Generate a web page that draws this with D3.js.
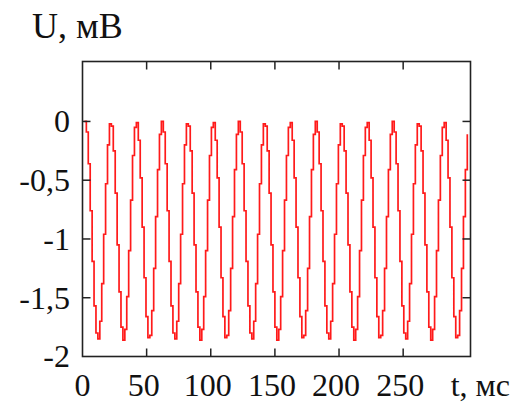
<!DOCTYPE html>
<html lang="ru">
<head>
<meta charset="UTF-8">
<title>U(t)</title>
<script src="https://d3js.org/d3.v7.min.js"></script>
<style>
    body { margin: 0; background: #fff; }
    svg { display: block; }
    text { font-family: "Liberation Serif", "DejaVu Serif", serif; fill: #111; }
</style>
</head>
<body>
<svg width="515" height="402"></svg>
<script>
// sampled signal, mV (step 1.5 ms, first sample at 1.5 ms)
const t0 = 1.5, dt = 1.5;
const uValues = [
    0.00, -0.09, -0.36, -0.76, -1.19, -1.57, -1.80, -1.85, -1.70, -1.38, -0.96, -0.53, -0.20, -0.02, -0.04, -0.25, -0.61, -1.05, -1.45, -1.75,
    -1.86, -1.77, -1.49, -1.10, -0.67, -0.29, -0.05, -0.01, -0.16, -0.48, -0.90, -1.33, -1.66, -1.84, -1.82, -1.61, -1.25, -0.81, -0.41, -0.11,
    0.00, -0.09, -0.36, -0.76, -1.19, -1.57, -1.80, -1.85, -1.70, -1.38, -0.96, -0.53, -0.20, -0.02, -0.04, -0.25, -0.61, -1.05, -1.45, -1.75,
    -1.86, -1.77, -1.49, -1.10, -0.67, -0.29, -0.05, -0.01, -0.16, -0.48, -0.90, -1.33, -1.66, -1.84, -1.82, -1.61, -1.25, -0.81, -0.41, -0.11,
    0.00, -0.09, -0.36, -0.76, -1.19, -1.57, -1.80, -1.85, -1.70, -1.38, -0.96, -0.53, -0.20, -0.02, -0.04, -0.25, -0.61, -1.05, -1.45, -1.75,
    -1.86, -1.77, -1.49, -1.10, -0.67, -0.29, -0.05, -0.01, -0.16, -0.48, -0.90, -1.33, -1.66, -1.84, -1.82, -1.61, -1.25, -0.81, -0.41, -0.11,
    0.00, -0.09, -0.36, -0.76, -1.19, -1.57, -1.80, -1.85, -1.70, -1.38, -0.96, -0.53, -0.20, -0.02, -0.04, -0.25, -0.61, -1.05, -1.45, -1.75,
    -1.86, -1.77, -1.49, -1.10, -0.67, -0.29, -0.05, -0.01, -0.16, -0.48, -0.90, -1.33, -1.66, -1.84, -1.82, -1.61, -1.25, -0.81, -0.41, -0.11,
    0.00, -0.09, -0.36, -0.76, -1.19, -1.57, -1.80, -1.85, -1.70, -1.38, -0.96, -0.53, -0.20, -0.02, -0.04, -0.25, -0.61, -1.05, -1.45, -1.75,
    -1.86, -1.77, -1.49, -1.10, -0.67, -0.29, -0.05, -0.01, -0.16, -0.48, -0.90, -1.33, -1.66, -1.84, -1.82, -1.61, -1.25, -0.81, -0.41, -0.11
];
const xTicks = [0, 50, 100, 150, 200, 250];
const yTicks = [0, -0.5, -1, -1.5, -2];
const xLabel = "t, мс";
const yLabel = "U, мВ";

const svg = d3.select("svg");
const mLeft = 82.5, mRight = 470.5, mTop = 61.5, mBottom = 356.5;

const x = d3.scaleLinear().domain([0, 302.5]).range([mLeft, mRight]);
const y = d3.scaleLinear().domain([-2, 0.51]).range([mBottom, mTop]);

const fmt = d => String(d).replace(".", ",");
const tickLen = 8;

// signal
const line = d3.line()
    .x((d, i) => x(t0 + i * dt))
    .y(d => y(d))
    .curve(d3.curveStepAfter);

svg.append("path")
    .datum(uValues)
    .attr("d", line)
    .attr("fill", "none")
    .attr("stroke", "#ff1a1a")
    .attr("stroke-width", 1.7);

// inward ticks on all four sides
const g = svg.append("g").attr("stroke", "#222").attr("stroke-width", 1.5);
xTicks.filter(d => d > 0).forEach(d => {
    g.append("line").attr("x1", x(d)).attr("x2", x(d)).attr("y1", mBottom).attr("y2", mBottom - tickLen);
    g.append("line").attr("x1", x(d)).attr("x2", x(d)).attr("y1", mTop).attr("y2", mTop + tickLen);
});
yTicks.filter(d => d > -2).forEach(d => {
    g.append("line").attr("x1", mLeft).attr("x2", mLeft + tickLen).attr("y1", y(d)).attr("y2", y(d));
    g.append("line").attr("x1", mRight).attr("x2", mRight - tickLen).attr("y1", y(d)).attr("y2", y(d));
});

// frame
svg.append("rect")
    .attr("x", mLeft).attr("y", mTop)
    .attr("width", mRight - mLeft).attr("height", mBottom - mTop)
    .attr("fill", "none")
    .attr("stroke", "#222")
    .attr("stroke-width", 1.6);

// tick labels
svg.append("g").selectAll("text")
    .data(xTicks)
    .join("text")
    .attr("x", d => x(d) - (d > 0 ? 3 : 0))
    .attr("y", 396)
    .attr("text-anchor", "middle")
    .attr("font-size", 32)
    .text(fmt);

svg.append("g").selectAll("text")
    .data(yTicks)
    .join("text")
    .attr("x", 70)
    .attr("y", d => y(d))
    .attr("dy", "0.34em")
    .attr("text-anchor", "end")
    .attr("font-size", 32)
    .text(fmt);

// axis titles
svg.append("text")
    .attr("x", 510).attr("y", 396)
    .attr("text-anchor", "end")
    .attr("font-size", 32)
    .text(xLabel);

svg.append("text")
    .attr("x", 32).attr("y", 38)
    .attr("font-size", 36)
    .text(yLabel);
</script>
</body>
</html>
